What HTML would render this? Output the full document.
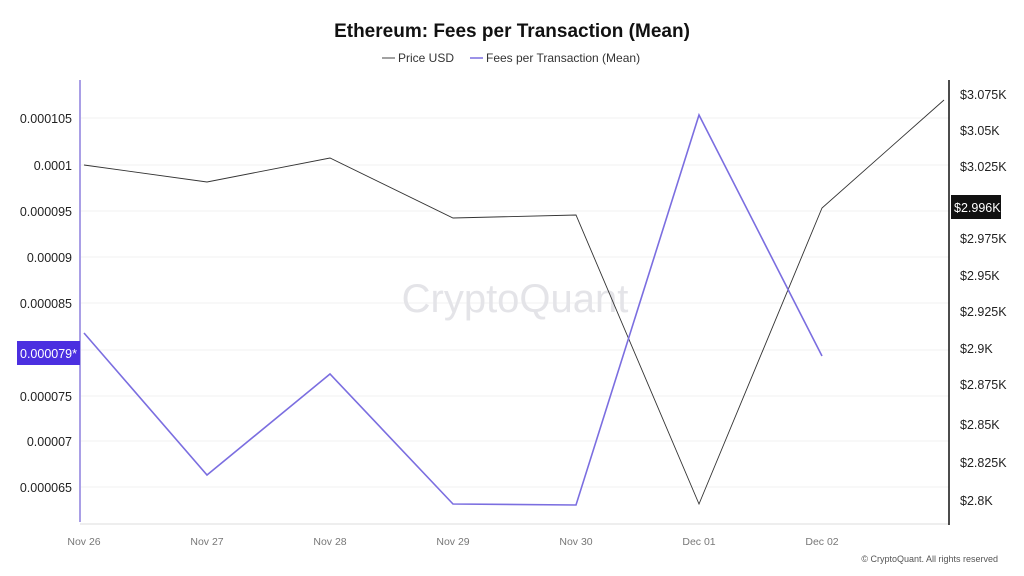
<!DOCTYPE html>
<html><head><meta charset="utf-8"><style>
body{margin:0;background:#fff;}
svg{display:block;font-family:"Liberation Sans",sans-serif;}
</style></head><body>
<svg width="1024" height="576" viewBox="0 0 1024 576">
<rect width="1024" height="576" fill="#fff"/>
<text x="512" y="37" text-anchor="middle" font-size="19" font-weight="bold" fill="#111">Ethereum: Fees per Transaction (Mean)</text>
<line x1="382" y1="58" x2="395" y2="58" stroke="#444" stroke-width="1"/>
<text x="398" y="62" font-size="12" fill="#333">Price USD</text>
<line x1="470" y1="58" x2="483" y2="58" stroke="#7b6ee0" stroke-width="1.5"/>
<text x="486" y="62" font-size="12" fill="#333">Fees per Transaction (Mean)</text>
<g stroke="#f2f2f2" stroke-width="1">
<line x1="80" y1="118" x2="949" y2="118"/><line x1="80" y1="165" x2="949" y2="165"/>
<line x1="80" y1="211" x2="949" y2="211"/><line x1="80" y1="257" x2="949" y2="257"/>
<line x1="80" y1="303" x2="949" y2="303"/><line x1="80" y1="350" x2="949" y2="350"/>
<line x1="80" y1="396" x2="949" y2="396"/><line x1="80" y1="441" x2="949" y2="441"/>
<line x1="80" y1="487" x2="949" y2="487"/>
</g>
<line x1="80" y1="524" x2="949" y2="524" stroke="#ddd"/>
<text x="515" y="312" text-anchor="middle" font-size="40" fill="#e4e4e8">CryptoQuant</text>
<line x1="80" y1="80" x2="80" y2="522" stroke="#a99fe6" stroke-width="2"/>
<line x1="949" y1="80" x2="949" y2="525" stroke="#111" stroke-width="1.5"/>
<g font-size="12.5" fill="#222" text-anchor="end">
<text x="72" y="123">0.000105</text><text x="72" y="170">0.0001</text>
<text x="72" y="216">0.000095</text><text x="72" y="262">0.00009</text>
<text x="72" y="308">0.000085</text><text x="72" y="401">0.000075</text>
<text x="72" y="446">0.00007</text><text x="72" y="492">0.000065</text>
</g>
<rect x="17" y="341" width="63" height="24" fill="#4b2fe0"/>
<text x="20" y="358" font-size="12.5" fill="#fff">0.000079*</text>
<g font-size="12.5" fill="#222">
<text x="960" y="99">$3.075K</text><text x="960" y="135">$3.05K</text>
<text x="960" y="171">$3.025K</text><text x="960" y="243">$2.975K</text>
<text x="960" y="280">$2.95K</text><text x="960" y="316">$2.925K</text>
<text x="960" y="353">$2.9K</text><text x="960" y="389">$2.875K</text>
<text x="960" y="429">$2.85K</text><text x="960" y="467">$2.825K</text>
<text x="960" y="505">$2.8K</text>
</g>
<rect x="951" y="195" width="50" height="24" fill="#111"/>
<text x="954" y="212" font-size="12.5" fill="#fff">$2.996K</text>
<g font-size="10.5" fill="#777" text-anchor="middle">
<text x="84" y="545">Nov 26</text><text x="207" y="545">Nov 27</text>
<text x="330" y="545">Nov 28</text><text x="453" y="545">Nov 29</text>
<text x="576" y="545">Nov 30</text><text x="699" y="545">Dec 01</text>
<text x="822" y="545">Dec 02</text>
</g>
<polyline fill="none" stroke="#333" stroke-width="0.9" points="84,165 207,182 330,158 453,218 576,215 699,504 822,208 944,100"/>
<polyline fill="none" stroke="#7b6ee0" stroke-width="1.6" points="84,333 207,475 330,374 453,504 576,505 699,115 822,356"/>
<text x="998" y="562" text-anchor="end" font-size="9" fill="#555">© CryptoQuant. All rights reserved</text>
</svg>
</body></html>
